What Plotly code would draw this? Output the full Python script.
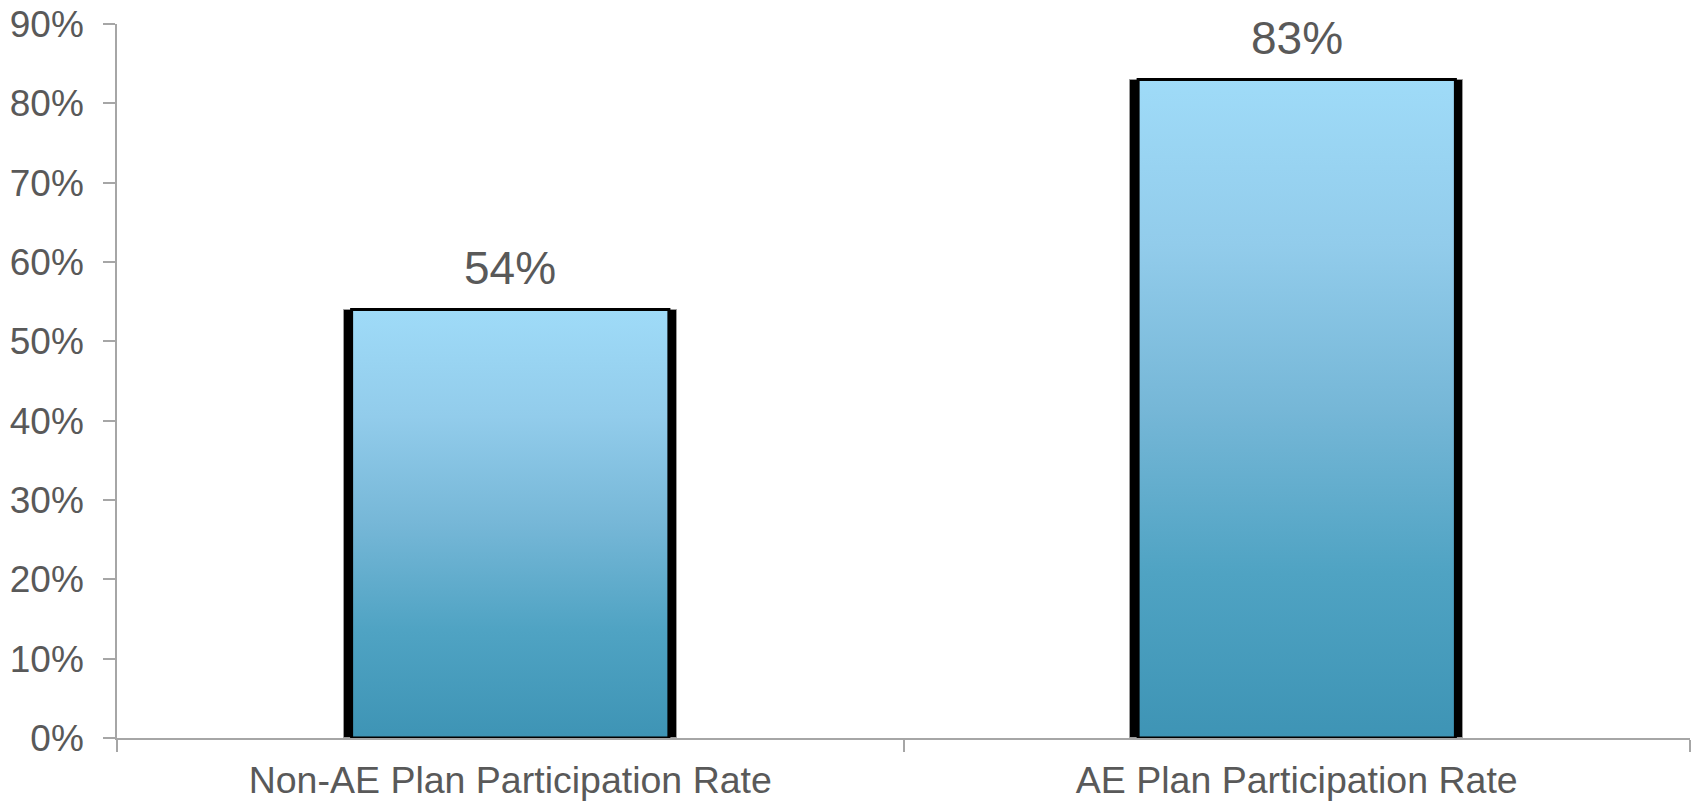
import plotly.graph_objects as go

# ---- data ----
categories = ["Non-AE Plan Participation Rate", "AE Plan Participation Rate"]
values = [0.54, 0.83]
y_tick_values = [0, 0.1, 0.2, 0.3, 0.4, 0.5, 0.6, 0.7, 0.8, 0.9]

# ---- style ----
FONT = "Liberation Sans, Arial, sans-serif"
TEXT = "#595959"
AXIS = "#A6A6A6"
BAR_W = 0.423
SIDE = 0.0098  # black side border as fraction of a category
GRAD = [[0.0, "#3E94B5"], [0.25, "#4FA3C3"], [0.5, "#76B7D7"],
        [0.75, "#92CCEB"], [1.0, "#9FDBF8"]]

fig = go.Figure()

# black framed bars (category axis)
fig.add_trace(go.Bar(
    x=categories, y=values, width=BAR_W,
    marker=dict(color="#000000", line=dict(color="#9A9A9A", width=1)),
    hoverinfo="skip", showlegend=False,
))

# gradient interiors on an overlaid numeric axis
for i, v in enumerate(values):
    half = BAR_W / 2 - SIDE
    fig.add_trace(go.Scatter(
        x=[i - half, i - half, i + half, i + half, i - half],
        y=[0, v, v, 0, 0],
        xaxis="x2", mode="lines", fill="toself",
        line=dict(color="#000000", width=3),
        fillgradient=dict(type="vertical", colorscale=GRAD, start=0, stop=v),
        hoverinfo="skip", showlegend=False,
    ))

for c, v in zip(categories, values):
    fig.add_annotation(
        x=c, y=v, xref="x", yref="y", text=f"{v:.0%}", showarrow=False,
        yanchor="bottom", yshift=14,
        font=dict(family=FONT, size=46, color=TEXT),
    )

fig.update_layout(
    width=1696, height=802,
    margin=dict(l=117, r=6, t=24, b=64),
    paper_bgcolor="white", plot_bgcolor="white",
    font=dict(family=FONT, color=TEXT),
    xaxis=dict(
        type="category", range=[-0.5, 1.5], tickson="boundaries",
        showline=True, linecolor=AXIS, linewidth=1.5,
        ticks="outside", ticklen=12, tickcolor=AXIS, tickwidth=1.5,
        showgrid=False, zeroline=False, ticklabelstandoff=8,
        tickfont=dict(family=FONT, size=37.5, color=TEXT),
        mirror=False, automargin=False,
    ),
    xaxis2=dict(
        overlaying="x", range=[-0.5, 1.5], visible=False, fixedrange=True,
    ),
    yaxis=dict(
        range=[0, 0.9], tickvals=y_tick_values, tickformat=".0%",
        showline=True, linecolor=AXIS, linewidth=1.5,
        ticks="outside", ticklen=12, tickcolor=AXIS, tickwidth=1.5,
        showgrid=False, zeroline=False, ticklabelstandoff=12,
        tickfont=dict(family=FONT, size=37, color=TEXT),
        automargin=False,
    ),
    bargap=0,
)

fig.write_html("out.html")
